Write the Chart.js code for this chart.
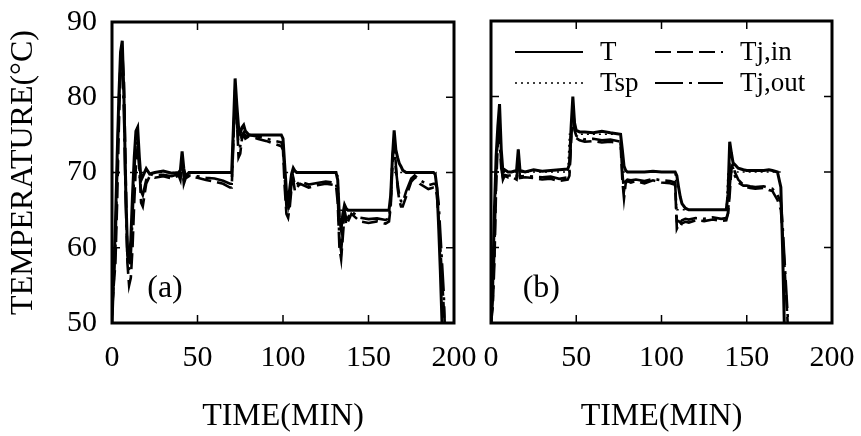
<!DOCTYPE html>
<html>
<head>
<meta charset="utf-8">
<script src="https://cdn.jsdelivr.net/npm/chart.js@4.4.1/dist/chart.umd.min.js"></script>
<style>
    html, body { margin: 0; padding: 0; background: #fff; }
    #wrap { position: relative; width: 861px; height: 436px; overflow: hidden; }
    canvas { position: absolute; top: 0; }
    #chartA { left: 0; }
    #chartB { left: 470px; }
</style>
</head>
<body>
<div id="wrap">
    <canvas id="chartA" width="480" height="436"></canvas>
    <canvas id="chartB" width="391" height="436"></canvas>
</div>
<script>
// axis ticks
const xTicks = [0, 50, 100, 150, 200];
const yTicks = [50, 60, 70, 80, 90];

// panel (a): time (min) and temperatures (°C)
const timeA = [
    0, 2, 3, 4, 5, 6, 7, 8, 9, 10,
    11, 12, 13, 14, 15, 16, 17, 18, 20, 22,
    25, 30, 35, 39, 40, 41, 42, 43, 45, 50,
    55, 60, 65, 69, 70, 71, 72, 73, 74, 75,
    76, 77, 78, 80, 85, 90, 95, 99, 100, 101,
    102, 103, 104, 105, 106, 107, 108, 110, 115, 120,
    125, 131, 132, 133, 134, 135, 136, 137, 138, 140,
    145, 150, 155, 160, 162, 163, 164, 165, 166, 167,
    168, 169, 170, 172, 175, 177, 180, 185, 188, 189,
    190, 191, 192, 193, 194, 195
];
const tA = [
    50, 63, 72, 80, 86, 87.5, 80, 68, 60, 58,
    61, 67, 72, 75.5, 76, 72, 69, 69.5, 70.5, 69.8,
    70, 70.2, 69.9, 70, 70.3, 72.8, 70.5, 69.5, 70, 70,
    70, 70, 70, 70, 70, 76, 82.5, 79, 76, 75.2,
    76, 76.3, 75.5, 75, 75, 75, 75, 75, 74.5, 71,
    67.5, 66, 68, 69.8, 70.6, 70.2, 70, 70, 70, 70,
    70, 70, 69, 64, 62.5, 64.5, 65.7, 65.2, 65, 65,
    65, 65, 65, 65, 65, 67, 72, 75.6, 73, 72,
    71.2, 70.8, 70.3, 70, 70, 70, 70, 70, 70, 69.8,
    68, 63, 57, 50, 46, 46
];
const tspA = [
    70, 70, 70, 70, 70, 70, 70, 70, 70, 70,
    70, 70, 70, 70, 70, 70, 70, 70, 70, 70,
    70, 70, 70, 70, 70, 70, 70, 70, 70, 70,
    70, 70, 70, 70, 70, 75, 75, 75, 75, 75,
    75, 75, 75, 75, 75, 75, 75, 75, 75, 70,
    70, 70, 70, 70, 70, 70, 70, 70, 70, 70,
    70, 70, 70, 65, 65, 65, 65, 65, 65, 65,
    65, 65, 65, 65, 65, 65, 70, 70, 70, 70,
    70, 70, 70, 70, 70, 70, 70, 70, 70, 70,
    70, null, null, null, null, null
];
const tjinA = [
    52, 58, 66, 76, 84, 86, 82, 70, 58, 55,
    56, 60, 66, 71, 73.5, 71, 66, 65.5, 68.5, 69.5,
    69.3, 69.5, 69.2, 69.6, 69, 71.5, 68.5, 69.2, 69.5, 69.3,
    69, 68.8, 68.5, 68, 68, 74, 81, 77.5, 72, 72.5,
    74.5, 75, 74.5, 74.8, 74.5, 74.2, 73.8, 73.5, 73, 68,
    64.5, 64, 65.5, 68, 69, 67.5, 68, 68.5, 68, 68.3,
    68.5, 68.3, 66, 60, 58.5, 61.5, 64.5, 63, 63.5, 64.5,
    63.5, 63.3, 63.5, 63.2, 63.5, 65.5, 71, 74.5, 71, 68,
    66.3, 65.5, 65.5, 66.8, 68.8, 69.3, 68.5, 67.8, 68, 68,
    67, 64, 60, 56, 52, 47
];
const tjoutA = [
    51, 60, 70, 79, 85, 84, 78, 66, 59, 57,
    59, 64, 70, 74, 74.5, 70, 67.5, 67, 69, 69.8,
    69.6, 69.7, 69.5, 69.8, 69.5, 72, 69.2, 69.4, 69.6, 69.5,
    69.3, 69.2, 68.9, 68.5, 68.5, 75, 80, 77, 73.5, 73.5,
    75, 75.3, 74.8, 75, 74.8, 74.5, 74.2, 74, 73.5, 69.5,
    65.5, 64.8, 66.5, 68.5, 69.3, 68.2, 68.4, 68.8, 68.4, 68.6,
    68.8, 68.6, 67, 61, 59.5, 62.5, 65, 63.8, 64, 64.8,
    64, 63.8, 63.9, 63.7, 63.9, 66, 72, 74, 70.5, 68.5,
    67, 66.2, 66, 67.5, 69.2, 69.6, 69, 68.3, 68.5, 68.5,
    68, 66, 62, 58, 54, 47
];

// panel (b)
const timeB = [
    0, 1, 2, 3, 4, 5, 6, 7, 8, 10,
    12, 15, 16, 17, 20, 25, 30, 35, 40, 45,
    46, 47, 48, 49, 50, 52, 55, 60, 65, 70,
    76, 77, 78, 79, 80, 82, 85, 90, 95, 100,
    105, 108, 109, 110, 111, 112, 114, 116, 120, 125,
    130, 135, 138, 139, 140, 141, 142, 143, 145, 148,
    150, 152, 155, 160, 163, 165, 168, 170, 171, 172,
    173, 174, 175, 176
];
const tB = [
    50, 55, 65, 72, 76, 79, 73, 70, 70.3, 70,
    70, 70.2, 73, 70.2, 70, 70.3, 70.1, 70.2, 70.3, 70.4,
    71, 76, 80, 76.5, 75.5, 75.3, 75.3, 75.2, 75.4, 75.2,
    75, 73, 70.8, 70.2, 70, 70, 70, 70, 70.1, 70,
    70, 70, 69.5, 68, 66.7, 65.8, 65.2, 65, 65, 65,
    65, 65, 65, 67, 74, 72.5, 71.2, 71, 70.5, 70.3,
    70.2, 70.2, 70.2, 70.2, 70.3, 70.2, 70, 68, 60, 50,
    46, 46, 46, 46
];
const tspB = [
    70, 70, 70, 70, 70, 70, 70, 70, 70, 70,
    70, 70, 70, 70, 70, 70, 70, 70, 70, 70,
    75, 75, 75, 75, 75, 75, 75, 75, 75, 75,
    75, 70, 70, 70, 70, 70, 70, 70, 70, 70,
    70, 70, 65, 65, 65, 65, 65, 65, 65, 65,
    65, 65, 65, 70, 70, 70, 70, 70, 70, 70,
    70, 70, 70, 70, 70, 70, 70, 70, 70, null,
    null, null, null, null
];
const tjinB = [
    50, 52, 58, 68, 74, 76, 71, 69, 69.5, 69.3,
    69.4, 69, 72, 69.2, 69.3, 69.2, 69, 69.1, 68.8, 69,
    69.5, 74, 78.5, 76, 74.5, 74.2, 74, 74.1, 73.9, 74,
    73.8, 69, 66.5, 68.5, 68.8, 68.6, 68.8, 68.5, 68.9, 68.6,
    68.5, 68.3, 62.5, 63, 62.8, 63.2, 63.4, 63.3, 63.6, 63.5,
    63.7, 63.5, 63.6, 64.5, 67, 70.5, 71, 70, 69, 68.3,
    68, 67.9, 67.8, 67.9, 67.6, 67.5, 66.3, 65, 62, 58,
    54, 50, 46, 46
];
const tjoutB = [
    50, 53, 60, 70, 75, 75, 70.5, 69.3, 69.6, 69.5,
    69.6, 69.3, 71.5, 69.4, 69.5, 69.4, 69.3, 69.4, 69.1, 69.3,
    70, 75, 77.5, 75.5, 74.8, 74.5, 74.3, 74.4, 74.2, 74.3,
    74, 70, 67.5, 68.8, 69, 68.9, 69, 68.8, 69.1, 68.9,
    68.8, 68.6, 63.5, 63.5, 63.3, 63.6, 63.8, 63.7, 63.9, 63.8,
    64, 63.8, 63.9, 64.5, 68, 70.8, 70.5, 69.5, 68.6, 68.2,
    68.2, 68.1, 68, 68.1, 67.9, 67.8, 67, 66, 63, 59,
    55, 51, 47, 46
];

// legend is 2 x 2, row by row
const legendOrder = ["T", "Tj,in", "Tsp", "Tj,out"];

Chart.defaults.font.family = "'Liberation Serif', 'Times New Roman', serif";
Chart.defaults.color = "#000";

function pts(time, vals) {
    return time.map((t, i) => ({ x: t, y: vals[i] }));
}

function makeDatasets(time, t, tsp, tjin, tjout) {
    return [
        { label: "T", data: pts(time, t), borderWidth: 3, borderDash: [] },
        { label: "Tsp", data: pts(time, tsp), borderWidth: 1.5, borderDash: [2, 4] },
        { label: "Tj,in", data: pts(time, tjin), borderWidth: 2.6, borderDash: [16, 6] },
        { label: "Tj,out", data: pts(time, tjout), borderWidth: 2.6, borderDash: [28, 6, 3, 6] }
    ].map(d => Object.assign(d, {
        borderColor: "#000",
        pointRadius: 0,
        tension: 0,
        fill: false,
        spanGaps: false
    }));
}

// box round the plot, inward ticks, panel tag
const framePlugin = {
    id: "frame",
    afterDatasetsDraw(chart, args, opts) {
        const { ctx, chartArea: a } = chart;
        const xs = chart.scales.x, ys = chart.scales.y;
        const len = 8;
        ctx.save();
        ctx.strokeStyle = "#000";
        ctx.lineWidth = 1.5;
        ctx.beginPath();
        xs.ticks.forEach(tk => {
            const px = xs.getPixelForValue(tk.value);
            ctx.moveTo(px, a.bottom); ctx.lineTo(px, a.bottom - len);
            ctx.moveTo(px, a.top); ctx.lineTo(px, a.top + len);
        });
        ys.ticks.forEach(tk => {
            const py = ys.getPixelForValue(tk.value);
            ctx.moveTo(a.left, py); ctx.lineTo(a.left + len, py);
            ctx.moveTo(a.right, py); ctx.lineTo(a.right - len, py);
        });
        ctx.stroke();
        ctx.lineWidth = 3;
        ctx.strokeRect(a.left, a.top, a.right - a.left, a.bottom - a.top);

        ctx.fillStyle = "#000";
        ctx.font = "32px 'Liberation Serif'";
        ctx.textAlign = "center";
        ctx.textBaseline = "middle";
        ctx.fillText(opts.tag, xs.getPixelForValue(opts.tagAt[0]), ys.getPixelForValue(opts.tagAt[1]));
        ctx.restore();
    }
};

// legend drawn inside the plot (panel b)
const innerLegend = {
    id: "innerLegend",
    afterDraw(chart, args, opts) {
        if (!opts.show) return;
        const { ctx, chartArea: a } = chart;
        ctx.save();
        ctx.font = "27px 'Liberation Serif'";
        ctx.fillStyle = "#000";
        ctx.strokeStyle = "#000";
        ctx.textAlign = "left";
        ctx.textBaseline = "middle";
        legendOrder.forEach((name, i) => {
            const ds = chart.data.datasets.find(d => d.label === name);
            const col = i % 2, row = Math.floor(i / 2);
            const x0 = a.left + 24 + col * 140;
            const yy = a.top + 31 + row * 31;
            ctx.lineWidth = ds.borderWidth < 2 ? 1.5 : 1.8;
            ctx.setLineDash(ds.borderDash);
            ctx.beginPath();
            ctx.moveTo(x0, yy);
            ctx.lineTo(x0 + 68, yy);
            ctx.stroke();
            ctx.setLineDash([]);
            ctx.fillText(name, x0 + 85, yy + 1);
        });
        ctx.restore();
    }
};

// fixed axis box sizes; labels may overhang into the page margins
function fixBox(s, w, h) {
    if (w !== null) s.width = w;
    if (h !== null) s.height = h;
    s.paddingLeft = 0;
    s.paddingRight = 0;
    s.paddingTop = 0;
    s.paddingBottom = 0;
}

function makeOptions(cfg) {
    return {
        responsive: false,
        animation: false,
        events: [],
        layout: { padding: { left: 0, top: cfg.padTop, right: cfg.padRight, bottom: 0 } },
        plugins: {
            legend: { display: false },
            tooltip: { enabled: false },
            frame: { tag: cfg.tag, tagAt: cfg.tagAt },
            innerLegend: { show: cfg.legend }
        },
        scales: {
            x: {
                type: "linear",
                min: xTicks[0],
                max: xTicks[xTicks.length - 1],
                grid: { display: false, drawTicks: false },
                border: { display: false },
                ticks: { stepSize: xTicks[1] - xTicks[0], padding: 17, maxRotation: 0, autoSkip: false, font: { size: 30 } },
                title: { display: true, text: "TIME(MIN)", font: { size: 32 }, padding: { top: 0, bottom: 0 } },
                afterFit(s) { fixBox(s, null, 113); }
            },
            y: {
                type: "linear",
                min: yTicks[0],
                max: yTicks[yTicks.length - 1],
                grid: { display: false, drawTicks: false },
                border: { display: false },
                ticks: { display: cfg.yLabels, stepSize: yTicks[1] - yTicks[0], padding: 15, font: { size: 30 } },
                title: { display: cfg.yLabels, text: "TEMPERATURE(°C)", font: { size: 32 }, padding: { top: 4, bottom: 0 } },
                afterFit(s) { fixBox(s, cfg.yWidth, null); }
            }
        }
    };
}

new Chart(document.getElementById("chartA"), {
    type: "line",
    data: { datasets: makeDatasets(timeA, tA, tspA, tjinA, tjoutA) },
    options: makeOptions({ padTop: 22, padRight: 26, yWidth: 112, yLabels: true, tag: "(a)", tagAt: [31, 54.6], legend: false }),
    plugins: [framePlugin, innerLegend]
});

new Chart(document.getElementById("chartB"), {
    type: "line",
    data: { datasets: makeDatasets(timeB, tB, tspB, tjinB, tjoutB) },
    options: makeOptions({ padTop: 21, padRight: 29, yWidth: 21, yLabels: false, tag: "(b)", tagAt: [29.5, 54.6], legend: true }),
    plugins: [framePlugin, innerLegend]
});
</script>
</body>
</html>
